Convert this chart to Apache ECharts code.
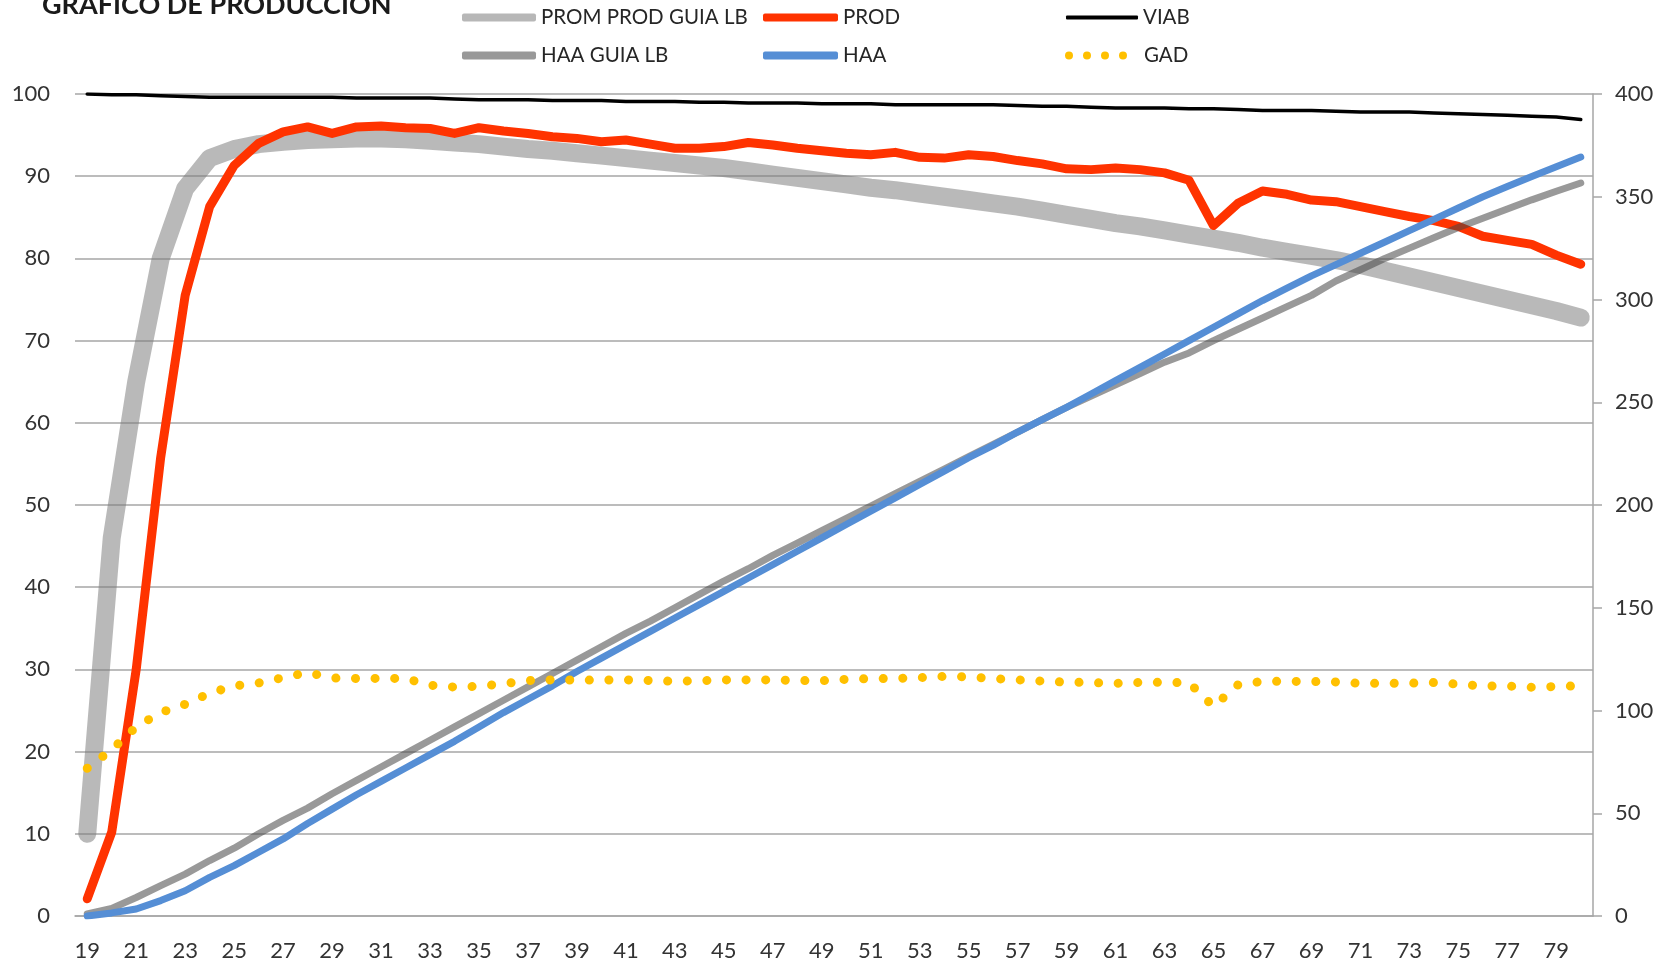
<!DOCTYPE html>
<html>
<head>
<meta charset="utf-8">
<title>Grafico de produccion</title>
<script src="https://cdn.jsdelivr.net/npm/echarts@6/dist/echarts.min.js"></script>
<style>
html, body { margin: 0; padding: 0; background: #fff; }
#chart { width: 1667px; height: 963px; }
</style>
</head>
<body>
<div id="chart"></div>
<script>
// semanas de edad
const weeks = ['19','20','21','22','23','24','25','26','27','28','29','30','31','32','33','34','35','36','37','38',
  '39','40','41','42','43','44','45','46','47','48','49','50','51','52','53','54','55','56','57','58',
  '59','60','61','62','63','64','65','66','67','68','69','70','71','72','73','74','75','76','77','78','79','80'];

// eje izquierdo (%)
const promProdGuia = [10, 46, 65, 80, 88.5, 92.2, 93.3, 93.9, 94.2, 94.4, 94.5, 94.6, 94.6, 94.5, 94.3, 94.1, 93.9, 93.6, 93.3, 93.1,
  92.8, 92.5, 92.2, 91.9, 91.6, 91.3, 91.0, 90.6, 90.2, 89.8, 89.4, 89.0, 88.6, 88.3, 87.9, 87.5, 87.1, 86.7, 86.3, 85.8,
  85.3, 84.8, 84.3, 83.9, 83.4, 82.9, 82.4, 81.9, 81.3, 80.8, 80.3, 79.8, 79.2, 78.5, 77.8, 77.1, 76.4, 75.7, 75.0, 74.3, 73.6, 72.8];
const prod = [2.1, 10.2, 30, 55.8, 75.5, 86.3, 91.3, 94.0, 95.4, 96.0, 95.2, 96.0, 96.1, 95.9, 95.8, 95.2, 95.9, 95.5, 95.2, 94.8,
  94.6, 94.2, 94.4, 93.9, 93.4, 93.4, 93.6, 94.1, 93.8, 93.4, 93.1, 92.8, 92.6, 92.9, 92.3, 92.2, 92.6, 92.4, 91.9, 91.5,
  90.9, 90.8, 91.0, 90.8, 90.4, 89.5, 84.0, 86.7, 88.2, 87.8, 87.1, 86.9, 86.3, 85.7, 85.1, 84.6, 83.9, 82.7, 82.2, 81.7, 80.4, 79.3];
const viab = [100, 99.9, 99.9, 99.8, 99.7, 99.6, 99.6, 99.6, 99.6, 99.6, 99.6, 99.5, 99.5, 99.5, 99.5, 99.4, 99.3, 99.3, 99.3, 99.2,
  99.2, 99.2, 99.1, 99.1, 99.1, 99.0, 99.0, 98.9, 98.9, 98.9, 98.8, 98.8, 98.8, 98.7, 98.7, 98.7, 98.7, 98.7, 98.6, 98.5,
  98.5, 98.4, 98.3, 98.3, 98.3, 98.2, 98.2, 98.1, 98.0, 98.0, 98.0, 97.9, 97.8, 97.8, 97.8, 97.7, 97.6, 97.5, 97.4, 97.3, 97.2, 96.9];

// eje derecho
const haaGuia = [1, 3.7, 9, 14.8, 20.4, 27, 33, 40, 46.5, 52.5, 59.5, 66, 72.5, 79, 85.5, 92, 98.5, 105, 111.5, 118,
  124.5, 131, 137.5, 143.5, 150, 156.5, 163, 169, 175.5, 181.5, 187.5, 193.5, 199.5, 205.5, 211.5, 217.5, 223.5, 229.5, 235.5, 241.5,
  247.5, 253, 258.5, 264, 269.5, 274, 280, 285.5, 291, 296.5, 302, 309, 314.5, 320, 325, 330, 335, 339.5, 344, 348.5, 352.7, 356.7];
const haa = [0, 1.5, 3.4, 7.5, 12.3, 18.8, 24.5, 31, 37.5, 45, 52, 59, 65.5, 72, 78.5, 85, 92, 99, 105.5, 112,
  119, 125.5, 132, 138.5, 145, 151.5, 158, 164.5, 171, 177.5, 184, 190.5, 197, 203.5, 210, 216.5, 223, 229, 235.5, 241.5,
  247.5, 254, 260.5, 267, 273.5, 280, 286.5, 293, 299.5, 305.5, 311.5, 317, 322.5, 328, 333.5, 339, 344.5, 350, 355, 359.8, 364.6, 369.3];
const gad = [71.9, 81, 92, 99, 103, 108.4, 112, 113.4, 116, 118.5, 115.8, 115.6, 115.6, 115.6, 112.3, 111.4, 111.8, 113, 114.6, 114.9,
  114.8, 114.8, 114.9, 114.6, 114.2, 114.5, 114.9, 114.9, 114.9, 114.6, 114.5, 115.2, 115.5, 115.6, 116, 116.6, 116.4, 115.5, 114.9, 114.3,
  113.8, 113.6, 113.2, 113.7, 113.7, 113.5, 102, 112.5, 114.2, 114.2, 114.1, 113.9, 113.2, 113.2, 113.3, 113.6, 112.8, 111.9, 111.9, 111.3, 111.7, 112];

const FONT = 'Lato';
const dotsIcon = 'path://M0,4a4,4 0 1,0 8,0a4,4 0 1,0 -8,0Z M18,4a4,4 0 1,0 8,0a4,4 0 1,0 -8,0Z M36,4a4,4 0 1,0 8,0a4,4 0 1,0 -8,0Z M54,4a4,4 0 1,0 8,0a4,4 0 1,0 -8,0Z';

function mkLegend(name, left, top, icon, color, w, h, padLeft) {
  return {
    left: left, top: top, padding: 0,
    itemWidth: w, itemHeight: h,
    selectedMode: false,
    textStyle: { fontFamily: FONT, fontSize: 20.5, color: '#262626', padding: [0, 0, 0, padLeft || 0] },
    data: [{ name: name, icon: icon, itemStyle: { color: color, opacity: 1 } }]
  };
}

function mkLine(name, data, axis, lineStyle) {
  return {
    name: name, type: 'line', data: data, yAxisIndex: axis,
    symbol: 'none', smooth: false,
    lineStyle: Object.assign({ cap: 'round', join: 'round' }, lineStyle),
    itemStyle: { color: lineStyle.color },
    emphasis: { disabled: true }
  };
}

const chart = echarts.init(document.getElementById('chart'));
chart.setOption({
  animation: false,
  backgroundColor: '#fff',
  title: {
    text: 'GRAFICO DE PRODUCCION',
    left: 42, top: -8, padding: 0,
    textStyle: { fontFamily: FONT, fontWeight: 'bold', fontSize: 27, color: '#1a1a1a' }
  },
  legend: [
    mkLegend('PROM PROD GUIA LB', 462, 7, 'roundRect', '#b7b7b7', 74, 8),
    mkLegend('HAA GUIA LB', 462, 45, 'roundRect', '#999999', 74, 8),
    mkLegend('PROD', 763, 7, 'roundRect', '#ff3300', 75, 8),
    mkLegend('HAA', 763, 45, 'roundRect', '#558ed5', 75, 8),
    mkLegend('VIAB', 1066, 7, 'roundRect', '#000000', 72, 4),
    mkLegend('GAD', 1065, 45, dotsIcon, '#ffc000', 62, 8, 12)
  ],
  grid: { left: 75, right: 74, top: 94, bottom: 47 },
  xAxis: {
    type: 'category',
    data: weeks,
    boundaryGap: true,
    axisLine: { lineStyle: { color: '#a6a6a6', width: 1.5 } },
    axisTick: { alignWithLabel: true, interval: 0, length: 8, lineStyle: { color: '#a6a6a6', width: 1.5 } },
    axisLabel: { interval: 1, fontFamily: FONT, fontSize: 22, color: '#333', margin: 24 }
  },
  yAxis: [
    {
      type: 'value', min: 0, max: 100, interval: 10,
      axisLine: { show: false }, axisTick: { show: false },
      splitLine: { lineStyle: { color: '#a6a6a6', width: 1.5 } },
      axisLabel: { fontFamily: FONT, fontSize: 22, color: '#333', margin: 25 }
    },
    {
      type: 'value', min: 0, max: 400, interval: 50, position: 'right',
      axisLine: { show: true, lineStyle: { color: '#a6a6a6', width: 1.5 } },
      axisTick: { show: true, length: 9, lineStyle: { color: '#a6a6a6', width: 1.5 } },
      splitLine: { show: false },
      axisLabel: { fontFamily: FONT, fontSize: 22, color: '#333', margin: 22 }
    }
  ],
  series: [
    mkLine('PROM PROD GUIA LB', promProdGuia, 0, { color: 'rgba(120,120,120,0.52)', width: 18 }),
    mkLine('PROD', prod, 0, { color: '#ff3300', width: 9 }),
    mkLine('HAA GUIA LB', haaGuia, 1, { color: 'rgba(70,70,70,0.55)', width: 7 }),
    mkLine('HAA', haa, 1, { color: '#558ed5', width: 7 }),
    mkLine('GAD', gad, 1, { color: '#ffc000', width: 9, type: [0.1, 19.5] }),
    mkLine('VIAB', viab, 0, { color: '#000000', width: 3.5 })
  ]
});
</script>
</body>
</html>
